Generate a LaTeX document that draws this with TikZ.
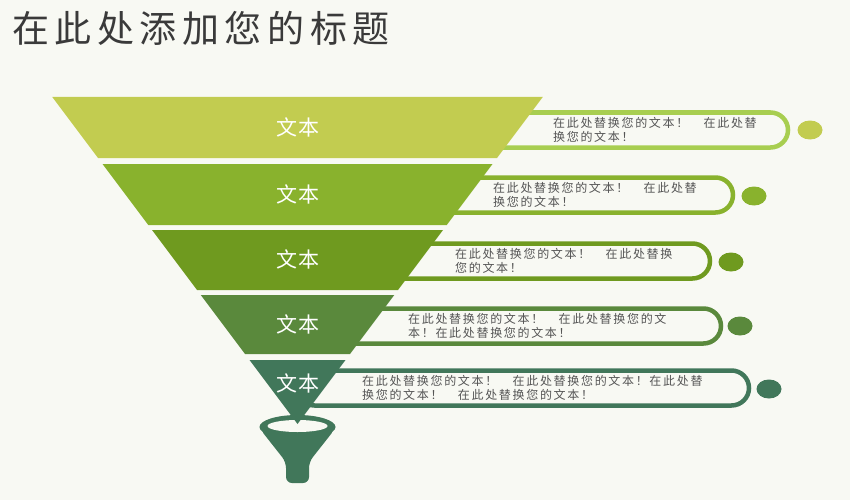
\documentclass[tikz,border=0pt]{standalone}
\usepackage{fontspec}
\usepackage{xcolor}
\usepackage{tikz}
\newfontfamily\cjktitle[LetterSpace=15]{Noto Sans CJK SC}
\newfontfamily\cjklabel[LetterSpace=8]{Noto Sans CJK SC}
\newfontfamily\cjknote[LetterSpace=14]{Noto Sans CJK SC}
\definecolor{bgcolor}{RGB}{248,249,243}
\definecolor{bandone}{RGB}{194,204,80}
\definecolor{lineone}{RGB}{168,206,80}
\definecolor{bandtwo}{RGB}{137,178,45}
\definecolor{bandthree}{RGB}{111,154,31}
\definecolor{bandfour}{RGB}{90,137,60}
\definecolor{bandfive}{RGB}{65,119,90}
\definecolor{titlegray}{RGB}{58,58,58}
\definecolor{notegray}{RGB}{85,85,85}

\begin{document}
\begin{tikzpicture}[x=1pt, y=-1pt,
    bandlabel/.style={text=white, inner sep=0pt, font=\cjklabel\fontsize{21}{21}\selectfont},
    note/.style={anchor=west, align=left, inner sep=0pt, text=notegray, font=\cjknote\fontsize{12}{14}\selectfont},
    callout/.style={line width=4.5pt, fill=bgcolor, rounded corners=17.5pt}]
    % Background
    \fill[bgcolor] (0, 0) rectangle (850, 500);
    \useasboundingbox (0, 0) rectangle (850, 500);

    % Title
    \node[anchor=west, inner sep=0pt, text=titlegray, font=\cjktitle\fontsize{37}{37}\selectfont] (title) at (12, 28) {在此处添加您的标题};

    % Callouts behind the funnel
    \draw[callout, draw=lineone] (297, 112.5) rectangle (788, 147.5);
    \draw[callout, draw=bandtwo] (297, 177.5) rectangle (733, 212.5);
    \draw[callout, draw=bandthree] (297, 243.5) rectangle (710, 278.5);
    \draw[callout, draw=bandfour] (297, 308.5) rectangle (721, 343.5);
    \draw[callout, draw=bandfive] (297, 370.5) rectangle (749, 405.5);

    % Dots
    \fill[bandone] (810, 130) ellipse [x radius=12.5pt, y radius=9.5pt];
    \fill[bandtwo] (754, 196) ellipse [x radius=12.5pt, y radius=9.5pt];
    \fill[bandthree] (731, 262) ellipse [x radius=12.5pt, y radius=9.5pt];
    \fill[bandfour] (740, 326) ellipse [x radius=12.5pt, y radius=9.5pt];
    \fill[bandfive] (769, 389) ellipse [x radius=12.5pt, y radius=9.5pt];

    % Notes
    \node[note] (note1) at (553, 130) {在此处替换您的文本！　在此处替\\换您的文本！};
    \node[note] (note2) at (493, 195) {在此处替换您的文本！　在此处替\\换您的文本！};
    \node[note] (note3) at (455, 261) {在此处替换您的文本！　在此处替换\\您的文本！};
    \node[note] (note4) at (408, 326) {在此处替换您的文本！　在此处替换您的文\\本！在此处替换您的文本！};
    \node[note] (note5) at (362, 388) {在此处替换您的文本！　在此处替换您的文本！在此处替\\换您的文本！　在此处替换您的文本！};

    % Funnel spout
    \fill[bandfive] (297.5, 427) ellipse [x radius=38pt, y radius=12pt];
    \fill[bandfive, rounded corners=6pt] (260, 429) -- (286, 462) -- (286, 483) -- (309, 483) -- (309, 462) -- (335, 429) -- cycle;
    \fill[bgcolor] (297.5, 426) ellipse [x radius=30pt, y radius=6pt];

    % Funnel bands
    \fill[bandone] (52.25, 97) -- (542.75, 97) -- (497, 158) -- (98, 158) -- cycle;
    \fill[bandtwo] (102.5, 164) -- (492.5, 164) -- (446.75, 225) -- (148.25, 225) -- cycle;
    \fill[bandthree] (152, 230) -- (443, 230) -- (398, 290) -- (197, 290) -- cycle;
    \fill[bandfour] (200.75, 295) -- (394.25, 295) -- (350, 354) -- (245, 354) -- cycle;
    \fill[bandfive] (249.5, 360) -- (345.5, 360) -- (297.5, 424) -- cycle;

    % Band labels
    \node[bandlabel] (label1) at (298, 127.5) {文本};
    \node[bandlabel] (label2) at (298, 194) {文本};
    \node[bandlabel] (label3) at (298, 259) {文本};
    \node[bandlabel] (label4) at (298, 324) {文本};
    \node[bandlabel] (label5) at (298, 383) {文本};
\end{tikzpicture}
\end{document}
